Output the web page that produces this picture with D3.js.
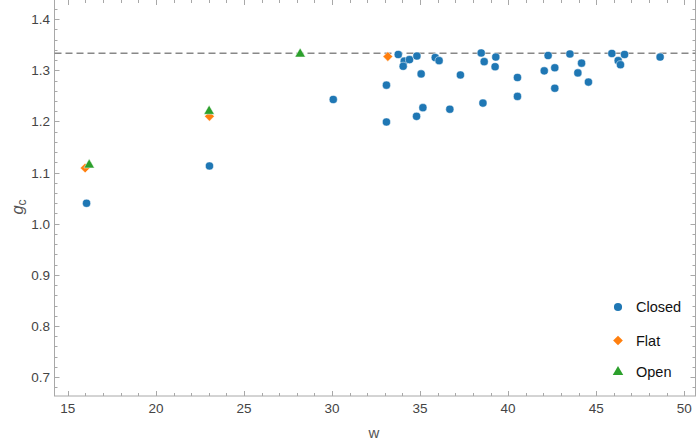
<!DOCTYPE html>
<html>
<head>
<meta charset="utf-8">
<script src="https://cdn.jsdelivr.net/npm/d3@7"></script>
<style>
  body { margin: 0; background: #fff; }
  svg { display: block; font-family: "Liberation Sans", Arial, sans-serif; }
  .tick-label { font-size: 13.5px; fill: #444; }
  .legend-label { font-size: 14.5px; fill: #111; }
</style>
</head>
<body>
<div id="chart"></div>
<script>
// Data
const closedW = [16.06, 23.04, 30.07, 33.09, 33.09, 33.76, 34.10, 34.04, 34.40, 34.82,
                 35.06, 34.80, 35.16, 35.86, 36.08, 36.69, 37.29, 38.47, 38.64, 38.57,
                 39.30, 39.26, 40.53, 40.53, 42.27, 42.05, 42.65, 42.65, 43.51, 44.17,
                 43.96, 44.56, 45.89, 46.25, 46.38, 46.61, 48.63];
const closedG = [1.040, 1.113, 1.243, 1.271, 1.199, 1.331, 1.318, 1.308, 1.321, 1.328,
                 1.293, 1.210, 1.227, 1.325, 1.319, 1.224, 1.291, 1.334, 1.317, 1.236,
                 1.326, 1.307, 1.286, 1.249, 1.329, 1.299, 1.305, 1.265, 1.332, 1.314,
                 1.295, 1.277, 1.333, 1.319, 1.311, 1.331, 1.326];
const flatW = [15.98, 23.04, 33.17];
const flatG = [1.109, 1.210, 1.327];
const openW = [16.21, 23.02, 28.19];
const openG = [1.115, 1.220, 1.332];

const referenceG = 4 / 3;
const xTicks = [15, 20, 25, 30, 35, 40, 45, 50];
const yTicks = [0.7, 0.8, 0.9, 1.0, 1.1, 1.2, 1.3, 1.4];

const seriesNames = ["Closed", "Flat", "Open"];
const colors = ["#1f77b4", "#ff7f0e", "#2ca02c"];

const width = 698, height = 448;
const plot = { left: 54.5, right: 695.5, top: 0, bottom: 396 };
const frameColor = "#a8a8a8";

const svg = d3.select("#chart").append("svg")
    .attr("width", width)
    .attr("height", height);

const xScale = d3.scaleLinear().domain([14.24, 50.64]).range([plot.left, plot.right]);
const yScale = d3.scaleLinear().domain([0.663, 1.4376]).range([plot.bottom, plot.top]);

// Frame
svg.append("rect")
    .attr("x", plot.left)
    .attr("y", plot.top - 0.5)
    .attr("width", plot.right - plot.left)
    .attr("height", plot.bottom - plot.top + 0.5)
    .attr("fill", "none")
    .attr("stroke", frameColor)
    .attr("stroke-width", 1);

// Ticks (inward, on all four sides)
const xMinor = d3.range(15, 51, 1);
const yMinor = d3.range(0.68, 1.44, 0.02);
const ticks = svg.append("g").attr("stroke", frameColor).attr("stroke-width", 1);

xMinor.forEach(v => {
    const len = (v % 5 === 0) ? 5 : 3;
    const x = Math.round(xScale(v)) + 0.5;
    ticks.append("line").attr("x1", x).attr("x2", x)
        .attr("y1", plot.bottom).attr("y2", plot.bottom - len);
    ticks.append("line").attr("x1", x).attr("x2", x)
        .attr("y1", plot.top).attr("y2", plot.top + len);
});
yMinor.forEach(v => {
    const isMajor = Math.abs(v * 10 - Math.round(v * 10)) < 1e-6;
    const len = isMajor ? 5 : 3;
    const y = Math.round(yScale(v)) + 0.5;
    ticks.append("line").attr("y1", y).attr("y2", y)
        .attr("x1", plot.left).attr("x2", plot.left + len);
    ticks.append("line").attr("y1", y).attr("y2", y)
        .attr("x1", plot.right).attr("x2", plot.right - len);
});

// Tick labels
svg.selectAll(".x-label")
    .data(xTicks)
    .join("text")
    .attr("class", "tick-label")
    .attr("x", d => xScale(d))
    .attr("y", 413)
    .attr("text-anchor", "middle")
    .text(d => d);

svg.selectAll(".y-label")
    .data(yTicks)
    .join("text")
    .attr("class", "tick-label")
    .attr("x", 50)
    .attr("y", d => yScale(d) + 5)
    .attr("text-anchor", "end")
    .text(d => d.toFixed(1));

// Axis labels
svg.append("text")
    .attr("x", 374)
    .attr("y", 438)
    .attr("text-anchor", "middle")
    .attr("font-size", 15)
    .attr("fill", "#555")
    .text("w");

const yLab = svg.append("text")
    .attr("transform", "translate(23, 207) rotate(-90)")
    .attr("text-anchor", "middle")
    .attr("font-size", 16.5)
    .attr("fill", "#555");
yLab.append("tspan").attr("font-style", "italic").text("g");
yLab.append("tspan").attr("font-size", 12).attr("dy", 3).text("c");

// Dashed reference line at 4/3
svg.append("line")
    .attr("x1", plot.left)
    .attr("x2", plot.right)
    .attr("y1", yScale(referenceG))
    .attr("y2", yScale(referenceG))
    .attr("stroke", "#888")
    .attr("stroke-width", 1.5)
    .attr("stroke-dasharray", "7,4");

// Symbols
const symbols = [
    d3.symbol().type(d3.symbolCircle).size(52),
    d3.symbol().type(d3.symbolDiamond2).size(60),
    d3.symbol().type(d3.symbolTriangle).size(48)
];

const series = [
    d3.zip(closedW, closedG),
    d3.zip(flatW, flatG),
    d3.zip(openW, openG)
];

series.forEach((pts, i) => {
    svg.append("g")
        .selectAll("path")
        .data(pts)
        .join("path")
        .attr("d", symbols[i])
        .attr("transform", d => `translate(${xScale(d[0])}, ${yScale(d[1])})`)
        .attr("fill", colors[i])
        .attr("stroke", "#fff")
        .attr("stroke-width", 0.5);
});

// Legend
const legendY = [307, 340.5, 372];
const legend = svg.append("g");
seriesNames.forEach((name, i) => {
    legend.append("path")
        .attr("d", symbols[i])
        .attr("transform", `translate(618, ${legendY[i]})`)
        .attr("fill", colors[i]);
    legend.append("text")
        .attr("class", "legend-label")
        .attr("x", 636)
        .attr("y", legendY[i] + 5)
        .text(name);
});
</script>
</body>
</html>
